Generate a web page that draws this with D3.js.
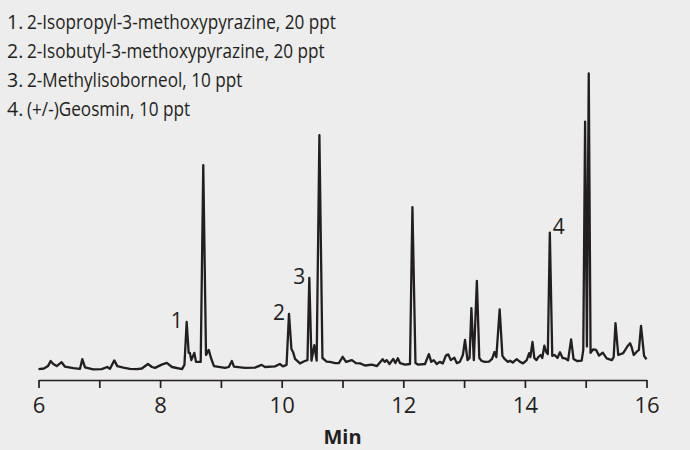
<!DOCTYPE html>
<html>
<head>
<meta charset="utf-8">
<script src="https://cdn.jsdelivr.net/npm/d3@7"></script>
<style>
  html, body { margin: 0; padding: 0; background: #ededed; }
  svg { display: block; }
  text { font-family: "Open Sans", "Noto Sans", sans-serif; fill: #231f20; }
</style>
</head>
<body>
<svg id="chart" width="690" height="450"></svg>
<script>
// ---- data ----
const retentionTimes = [
  6.00, 6.09, 6.156, 6.20, 6.243, 6.30, 6.38, 6.436, 6.572, 6.683, 6.72, 6.765, 6.90, 7.04, 7.13, 7.176,
  7.247, 7.296, 7.395, 7.505, 7.615, 7.70, 7.80, 7.867, 7.916, 8.026, 8.109, 8.196, 8.36, 8.40, 8.437,
  8.47, 8.49, 8.513, 8.563, 8.59, 8.668, 8.71, 8.755, 8.80, 8.837, 8.886, 9.067, 9.13, 9.18, 9.215,
  9.396, 9.56, 9.67, 9.725, 9.89, 9.97, 10.02, 10.08, 10.12, 10.16, 10.19, 10.22, 10.30, 10.38, 10.424,
  10.454, 10.49, 10.536, 10.575, 10.62, 10.67, 10.74, 10.795, 10.877, 10.94, 11.003, 11.058, 11.156,
  11.22, 11.29, 11.37, 11.485, 11.567, 11.66, 11.694, 11.727, 11.773, 11.835, 11.87, 11.91, 11.946,
  12.03, 12.11, 12.15, 12.20, 12.24, 12.357, 12.42, 12.46, 12.50, 12.55, 12.60, 12.65, 12.70, 12.74,
  12.78, 12.84, 12.88, 12.93, 12.98, 13.015, 13.056, 13.09, 13.12, 13.16, 13.21, 13.25, 13.29, 13.34,
  13.41, 13.46, 13.50, 13.53, 13.585, 13.63, 13.67, 13.72, 13.755, 13.80, 13.865, 13.92, 13.97, 14.03,
  14.07, 14.09, 14.125, 14.155, 14.19, 14.22, 14.26, 14.286, 14.32, 14.35, 14.377, 14.41, 14.45, 14.49,
  14.536, 14.577, 14.62, 14.66, 14.71, 14.76, 14.80, 14.857, 14.934, 14.96, 14.99, 15.02, 15.05, 15.08,
  15.125, 15.17, 15.22, 15.28, 15.345, 15.43, 15.46, 15.49, 15.535, 15.617, 15.69, 15.73, 15.756, 15.79,
  15.84, 15.875, 15.91, 15.96, 16.00
];
const signal = [
  0.3, 0.5, 1.3, 3.0, 2.0, 1.3, 2.6, 1.1, 0.6, 0.4, 3.6, 0.9, 0.2, 0.3, 1.0, 0.4,
  3.2, 1.3, 0.8, 0.4, 0.3, 0.5, 2.0, 1.0, 0.7, 1.8, 2.4, 1.0, 0.3, 1.7, 16.0,
  5.7, 5.7, 3.3, 5.7, 2.7, 2.7, 68.3, 5.0, 6.7, 4.0, 1.3, 0.7, 1.0, 3.0, 1.1,
  0.7, 0.8, 1.7, 1.0, 1.2, 2.0, 1.2, 1.7, 18.7, 7.0, 5.8, 3.7, 2.2, 3.0, 3.3,
  30.7, 3.1, 8.3, 3.1, 78.3, 4.0, 2.8, 2.7, 2.3, 2.3, 4.4, 2.7, 3.3,
  2.3, 2.2, 1.5, 1.8, 1.3, 3.6, 2.7, 3.3, 2.0, 3.7, 2.3, 3.9, 2.3,
  1.8, 2.0, 54.3, 2.3, 1.8, 2.0, 5.3, 2.7, 3.3, 2.0, 2.7, 2.2, 4.8, 5.2,
  3.3, 4.1, 2.3, 2.7, 5.0, 10.0, 3.3, 4.0, 20.6, 3.3, 29.7, 4.0, 3.0, 2.7,
  2.8, 3.7, 6.0, 4.3, 20.2, 4.7, 3.6, 2.7, 3.1, 2.5, 3.6, 2.7, 2.2, 3.3,
  5.6, 4.3, 9.4, 4.0, 3.3, 4.3, 5.0, 4.0, 8.1, 6.0, 5.3, 45.8, 4.7, 5.0,
  4.0, 5.9, 4.0, 3.9, 3.2, 10.2, 3.7, 3.0, 3.1, 6.7, 82.8, 7.8, 98.9, 5.7,
  6.9, 6.7, 4.8, 5.8, 3.9, 3.3, 4.3, 15.6, 5.0, 5.6, 8.0, 8.9, 7.6, 5.0,
  6.1, 6.7, 14.7, 4.7, 3.6
];
const xTicks = [6, 7, 8, 9, 10, 11, 12, 13, 14, 15, 16];
const xLabel = "Min";
const legendNumbers = ["1.", "2.", "3.", "4."];
const legendNames = [
  "2-Isopropyl-3-methoxypyrazine, 20 ppt",
  "2-Isobutyl-3-methoxypyrazine, 20 ppt",
  "2-Methylisoborneol, 10 ppt",
  "(+/-)Geosmin, 10 ppt"
];
const peakLabels = ["1", "2", "3", "4"];
const peakTimes = [8.437, 10.12, 10.454, 14.41];

// ---- drawing ----
const svg = d3.select("#chart");
const ink = "#231f20";

const x = d3.scaleLinear().domain([6, 16]).range([38.5, 646.5]);
const y = d3.scaleLinear().domain([0, 100]).range([370, 70]);

const pts = retentionTimes.map((t, i) => [t, signal[i]]);
const line = d3.line().x(d => x(d[0])).y(d => y(d[1]));

svg.append("path")
  .datum(pts)
  .attr("d", line)
  .attr("fill", "none")
  .attr("stroke", ink)
  .attr("stroke-width", 2.3)
  .attr("stroke-linejoin", "round");

// axis
const axis = d3.axisBottom(x)
  .tickValues(xTicks)
  .tickSize(8)
  .tickSizeOuter(0)
  .tickPadding(9)
  .tickFormat(d => d % 2 === 0 ? d : "");
const gAxis = svg.append("g").attr("transform", "translate(0,380)").call(axis);
gAxis.select(".domain").attr("stroke", ink).attr("stroke-width", 1.7);
gAxis.selectAll(".tick line").attr("stroke", ink).attr("stroke-width", 1.7);
gAxis.selectAll(".tick text")
  .attr("fill", ink)
  .style("font-family", '"Open Sans", sans-serif')
  .style("font-size", "22px");

svg.append("text")
  .attr("x", x(11))
  .attr("y", 444)
  .attr("text-anchor", "middle")
  .style("font-size", "20px")
  .style("font-weight", "bold")
  .text(xLabel);

// peak labels
const peakIndex = peakTimes.map(t => retentionTimes.indexOf(t));
svg.selectAll(".plabel")
  .data(peakLabels)
  .enter().append("text")
  .attr("class", "plabel")
  .attr("x", (d, i) => x(peakTimes[i]) + (i === 3 ? 3 : -4))
  .attr("y", (d, i) => y(signal[peakIndex[i]]) + (i === 3 ? 1 : 6))
  .attr("text-anchor", (d, i) => i === 3 ? "start" : "end")
  .style("font-size", "21px")
  .text(d => d);

// legend
const legend = svg.append("g");
const nameGroups = [];
legendNumbers.forEach((n, i) => {
  legend.append("text").attr("x", 7).attr("y", 29 + i * 29)
    .style("font-size", "19.5px").text(n);
  const g = legend.append("g");
  g.append("text").attr("x", 0).attr("y", 0)
    .style("font-size", "19.5px").text(legendNames[i]);
  nameGroups.push(g);
});
// condense the legend names horizontally to the reference's width
const w0 = nameGroups[0].select("text").node().getBBox().width;
const factor = (336 - 27) / w0;
nameGroups.forEach((g, i) => {
  g.attr("transform", `translate(27,${29 + i * 29}) scale(${factor},1)`);
});
</script>
</body>
</html>
